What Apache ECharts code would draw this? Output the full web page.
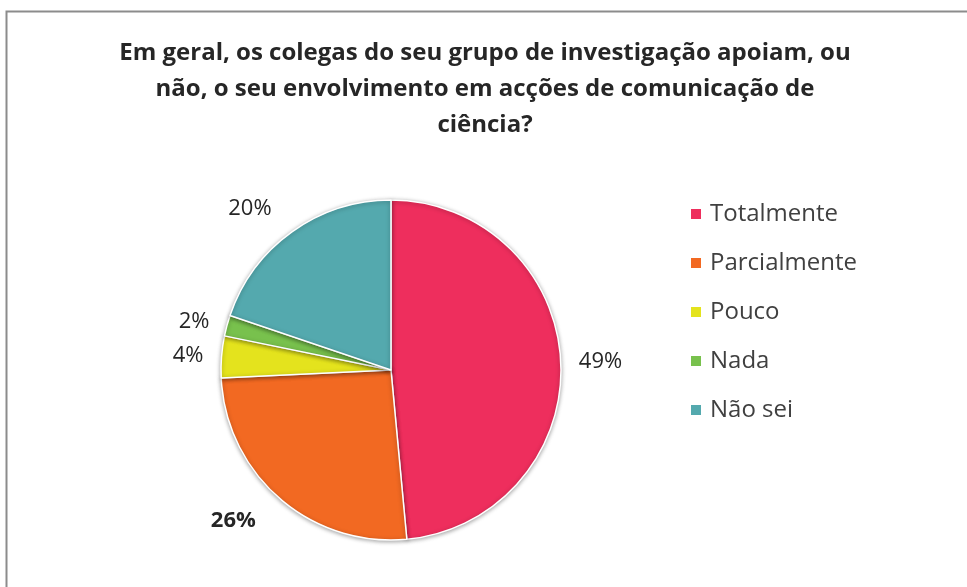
<!DOCTYPE html>
<html>
<head>
<meta charset="utf-8">
<script src="https://cdn.jsdelivr.net/npm/echarts@6/dist/echarts.min.js"></script>
<style>
html,body{margin:0;padding:0;background:#fff;}
#chart{width:967px;height:587px;}
</style>
</head>
<body>
<div id="chart"></div>
<script>
const titleText = 'Em geral, os colegas do seu grupo de investigação apoiam, ou\nnão, o seu envolvimento em acções de comunicação de\nciência?';
const categories = ['Totalmente', 'Parcialmente', 'Pouco', 'Nada', 'Não sei'];
const values = [49, 26, 4, 2, 20];
const colors = ['#EE2E5D', '#F26922', '#E4E31D', '#78C14D', '#54A9AE'];
const boldLabels = [false, true, false, false, false];
const labelOffsets = [14, 30, 14, 14, 28];

const chart = echarts.init(document.getElementById('chart'), null, {renderer: 'canvas'});
const FONT = 'Open Sans';
chart.setOption({
  animation: false,
  backgroundColor: '#fff',
  graphic: [{
    type: 'rect',
    shape: {x: 6.5, y: 11.5, width: 1000, height: 1000},
    style: {fill: 'none', stroke: '#8c8c8c', lineWidth: 2},
    silent: true
  }],
  title: {
    text: titleText,
    left: 480,
    textAlign: 'center',
    top: 30,
    textStyle: {fontFamily: FONT, fontWeight: 'bold', fontSize: 24, color: '#262626', lineHeight: 36}
  },
  legend: {
    orient: 'vertical',
    left: 684,
    top: 197,
    itemWidth: 12,
    itemHeight: 12,
    itemGap: 25,
    icon: 'rect',
    textStyle: {fontFamily: FONT, fontSize: 24, lineHeight: 24, color: '#404040', padding: [0, 0, 0, 3]},
    data: categories
  },
  series: [{
    type: 'pie',
    center: [391, 370],
    radius: [0, 170],
    startAngle: 90,
    clockwise: true,
    avoidLabelOverlap: false,
    data: categories.map((c, i) => ({
      name: c,
      value: values[i],
      itemStyle: {color: colors[i]},
      label: {fontWeight: boldLabels[i] ? 'bold' : 'normal'},
      labelLine: {length: labelOffsets[i]}
    })),
    itemStyle: {borderColor: '#fff', borderWidth: 1.5, shadowBlur: 4, shadowColor: 'rgba(0,0,0,0.35)', shadowOffsetY: 1},
    label: {
      show: true,
      position: 'outside',
      formatter: p => p.value + '%',
      fontFamily: FONT,
      fontSize: 22,
      color: '#262626',
      distanceToLabelLine: 4,
      padding: [6, 0, 0, 0]
    },
    labelLine: {show: false, length: 14, length2: 0},
    emphasis: {disabled: true}
  }]
});
</script>
</body>
</html>
